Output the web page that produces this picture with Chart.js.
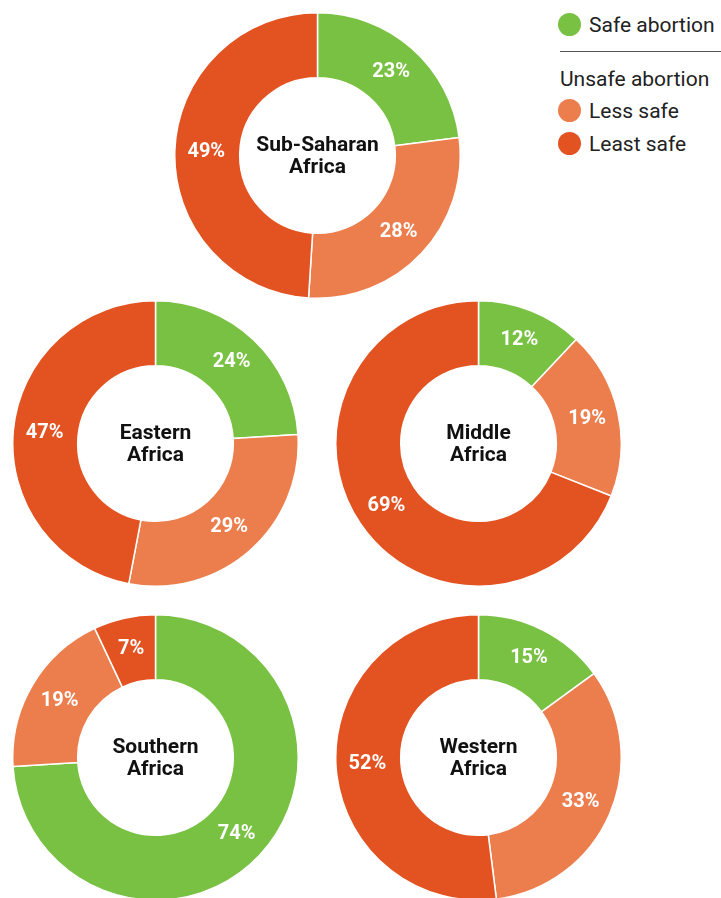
<!DOCTYPE html>
<html>
<head>
<meta charset="utf-8">
<script src="https://cdn.jsdelivr.net/npm/chart.js@4/dist/chart.umd.min.js"></script>
<style>
  html, body { margin: 0; padding: 0; background: #fff; }
  body { width: 721px; height: 898px; position: relative; overflow: hidden; font-family: "Roboto", "Open Sans", sans-serif; }
  .box { position: absolute; width: 287px; height: 287px; }
  .legend { position: absolute; left: 558px; top: 0; width: 163px; color: #222; font-size: 21px; }
  .legend .item { position: absolute; left: 0; white-space: nowrap; line-height: 24px; }
  .legend .dot { display: inline-block; width: 23px; height: 23px; border-radius: 50%; vertical-align: middle; margin-right: 8px; position: relative; top: -2px; }
  .legend .rule { position: absolute; left: 2px; top: 51px; width: 161px; height: 0; border-top: 1.5px solid #555; }
</style>
</head>
<body>
<div class="legend" id="legend">
  <div class="item" style="top:13px;"><span class="dot" style="background:#79C143"></span>Safe abortion</div>
  <div class="rule"></div>
  <div class="item" style="top:67px; left:2px;">Unsafe abortion</div>
  <div class="item" style="top:99px;"><span class="dot" style="background:#EC7E4E"></span>Less safe</div>
  <div class="item" style="top:132px;"><span class="dot" style="background:#E35221"></span>Least safe</div>
</div>

<div class="box" style="left:174px; top:11.5px;"><canvas id="c0" width="287" height="287"></canvas></div>
<div class="box" style="left:11.5px; top:299.5px;"><canvas id="c1" width="287" height="287"></canvas></div>
<div class="box" style="left:334.5px; top:299.5px;"><canvas id="c2" width="287" height="287"></canvas></div>
<div class="box" style="left:12px; top:613.5px;"><canvas id="c3" width="287" height="287"></canvas></div>
<div class="box" style="left:334.5px; top:613.5px;"><canvas id="c4" width="287" height="287"></canvas></div>

<script>
const categories = ["Safe abortion", "Less safe", "Least safe"];
const regions = [["Sub-Saharan", "Africa"], ["Eastern", "Africa"], ["Middle", "Africa"], ["Southern", "Africa"], ["Western", "Africa"]];
const subSaharan = [23, 28, 49];
const eastern = [24, 29, 47];
const middle = [12, 19, 69];
const southern = [74, 19, 7];
const western = [15, 33, 52];
const seriesValues = [subSaharan, eastern, middle, southern, western];
const colors = ["#79C143", "#EC7E4E", "#E35221"];

const labelPlugin = {
  id: 'ringLabels',
  afterDatasetsDraw(chart) {
    const ctx = chart.ctx;
    const meta = chart.getDatasetMeta(0);
    const data = chart.data.datasets[0].data;
    ctx.save();
    ctx.fillStyle = '#fff';
    ctx.font = 'bold 20px Roboto, "Open Sans", sans-serif';
    ctx.textAlign = 'center';
    ctx.textBaseline = 'middle';
    meta.data.forEach((arc, i) => {
      const p = arc.getProps(['x', 'y', 'startAngle', 'endAngle', 'innerRadius', 'outerRadius'], true);
      const a = (p.startAngle + p.endAngle) / 2;
      const r = (p.innerRadius + p.outerRadius) / 2 + 1;
      ctx.fillText(data[i] + '%', p.x + Math.cos(a) * r, p.y + Math.sin(a) * r);
    });
    const lines = chart.options.plugins.centerTitle.lines;
    const cx = meta.data[0].x, cy = meta.data[0].y;
    ctx.fillStyle = '#111';
    ctx.font = 'bold 21px Roboto, "Open Sans", sans-serif';
    ctx.fillText(lines[0], cx, cy - 10);
    ctx.fillText(lines[1], cx, cy + 12);
    ctx.restore();
  }
};

seriesValues.forEach((vals, k) => {
  new Chart(document.getElementById('c' + k), {
    type: 'doughnut',
    data: {
      labels: categories,
      datasets: [{
        data: vals,
        backgroundColor: colors,
        borderColor: '#fff',
        borderWidth: 1.5
      }]
    },
    options: {
      responsive: false,
      animation: false,
      cutout: '54.5%',
      layout: { padding: 0 },
      plugins: {
        legend: { display: false },
        tooltip: { enabled: false },
        centerTitle: { lines: regions[k] }
      }
    },
    plugins: [labelPlugin]
  });
});
</script>
</body>
</html>
